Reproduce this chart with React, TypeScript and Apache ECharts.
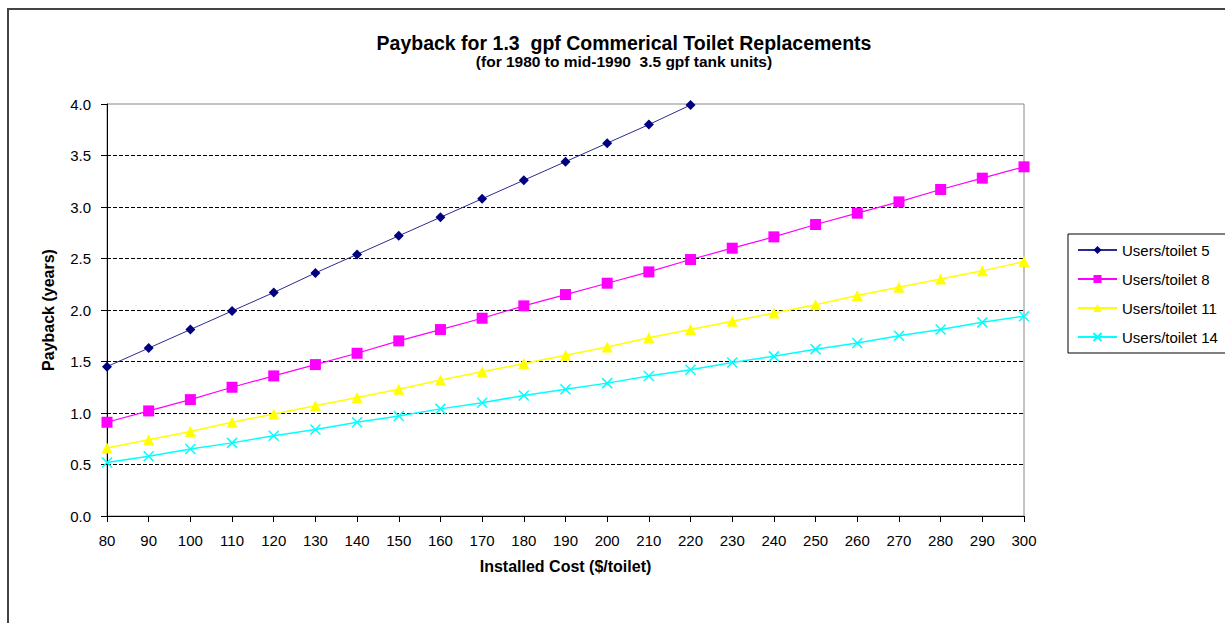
import React, { useEffect, useRef } from "react";
import * as echarts from "echarts";

const costs = [80, 90, 100, 110, 120, 130, 140, 150, 160, 170, 180, 190, 200, 210, 220, 230, 240, 250, 260, 270, 280, 290, 300];
const users5 = [1.45, 1.63, 1.81, 1.99, 2.17, 2.36, 2.54, 2.72, 2.90, 3.08, 3.26, 3.44, 3.62, 3.80, 3.99];
const users8 = [0.91, 1.02, 1.13, 1.25, 1.36, 1.47, 1.58, 1.70, 1.81, 1.92, 2.04, 2.15, 2.26, 2.37, 2.49, 2.60, 2.71, 2.83, 2.94, 3.05, 3.17, 3.28, 3.39];
const users11 = [0.66, 0.74, 0.82, 0.91, 0.99, 1.07, 1.15, 1.23, 1.32, 1.40, 1.48, 1.56, 1.64, 1.73, 1.81, 1.89, 1.97, 2.05, 2.14, 2.22, 2.30, 2.38, 2.47];
const users14 = [0.52, 0.58, 0.65, 0.71, 0.78, 0.84, 0.91, 0.97, 1.04, 1.10, 1.17, 1.23, 1.29, 1.36, 1.42, 1.49, 1.55, 1.62, 1.68, 1.75, 1.81, 1.88, 1.94];
const seriesNames = ["Users/toilet 5", "Users/toilet 8", "Users/toilet 11", "Users/toilet 14"];

const FONT = "'Liberation Sans', Arial, sans-serif";

function pairs(vals: number[]) {
  return vals.map((v, i) => [costs[i], v]);
}

export default function App() {
  const ref = useRef<HTMLDivElement>(null);
  useEffect(() => {
    if (!ref.current) return;
    const chart = echarts.init(ref.current, null, { renderer: "svg" });
    chart.setOption({
      animation: false,
      backgroundColor: "#fff",
      textStyle: { fontFamily: FONT },
      title: {
        text: "Payback for 1.3  gpf Commerical Toilet Replacements",
        subtext: "(for 1980 to mid-1990  3.5 gpf tank units)",
        left: 619,
        top: 28,
        textAlign: "center",
        itemGap: 0,
        textStyle: { fontFamily: FONT, fontSize: 19.5, fontWeight: "bold", color: "#000", lineHeight: 20 },
        subtextStyle: { fontFamily: FONT, fontSize: 15.5, fontWeight: "bold", color: "#000", lineHeight: 16 },
      },
      graphic: [
        {
          type: "rect",
          shape: { x: 8, y: 9, width: 1400, height: 800 },
          style: { fill: "none", stroke: "#444", lineWidth: 2 },
          silent: true,
        },
      ],
      legend: {
        orient: "vertical",
        left: 1068,
        top: 234,
        padding: [8, 12, 8, 9],
        itemGap: 13,
        itemWidth: 39,
        itemHeight: 10,
        borderColor: "#000",
        borderWidth: 1,
        textStyle: { fontFamily: FONT, fontSize: 15, color: "#000", lineHeight: 16 },
        data: seriesNames,
      },
      grid: {
        left: 107,
        right: 201,
        top: 104,
        bottom: 107,
        show: true,
        borderColor: "#888",
        borderWidth: 1,
        backgroundColor: "transparent",
      },
      xAxis: {
        type: "value",
        min: 80,
        max: 300,
        interval: 10,
        name: "Installed Cost ($/toilet)",
        nameLocation: "middle",
        nameGap: 42,
        nameTextStyle: { fontFamily: FONT, fontSize: 16, fontWeight: "bold", color: "#000" },
        axisLine: { lineStyle: { color: "#000", width: 1 } },
        axisTick: { show: true, length: 6, lineStyle: { color: "#000" } },
        axisLabel: { fontFamily: FONT, fontSize: 15, color: "#000", margin: 17 },
        splitLine: { show: false },
      },
      yAxis: {
        type: "value",
        min: 0,
        max: 4,
        interval: 0.5,
        name: "Payback (years)",
        nameLocation: "middle",
        nameGap: 51,
        nameTextStyle: { fontFamily: FONT, fontSize: 16, fontWeight: "bold", color: "#000" },
        axisLine: { show: true, lineStyle: { color: "#000", width: 1 } },
        axisTick: { show: true, length: 6, lineStyle: { color: "#000" } },
        axisLabel: {
          fontFamily: FONT,
          fontSize: 15,
          color: "#000",
          margin: 16,
          formatter: (v: number) => v.toFixed(1),
        },
        splitLine: {
          show: true,
          showMinLine: false,
          showMaxLine: false,
          lineStyle: { color: "#000", type: [4, 2], width: 1 },
        },
      },
      series: [
        {
          name: seriesNames[0],
          type: "line",
          data: pairs(users5),
          symbol: "diamond",
          symbolSize: 10,
          color: "#000080",
          lineStyle: { color: "#2b2b90", width: 1 },
          itemStyle: { color: "#000080" },
          z: 5,
        },
        {
          name: seriesNames[1],
          type: "line",
          data: pairs(users8),
          symbol: "rect",
          symbolSize: 11,
          color: "#ff00ff",
          lineStyle: { color: "#ff00ff", width: 1.2 },
          itemStyle: { color: "#ff00ff" },
          z: 4,
        },
        {
          name: seriesNames[2],
          type: "line",
          data: pairs(users11),
          symbol: "triangle",
          symbolSize: 11,
          color: "#ffff00",
          lineStyle: { color: "#ffff00", width: 1.5 },
          itemStyle: { color: "#ffff00" },
          z: 3,
        },
        {
          name: seriesNames[3],
          type: "line",
          data: pairs(users14),
          symbol: "path://M0,0L10,10M10,0L0,10",
          symbolSize: 10,
          color: "#00ffff",
          lineStyle: { color: "#00ffff", width: 1.5 },
          itemStyle: { color: "none", borderColor: "#00ffff", borderWidth: 1.5 },
          z: 2,
        },
      ],
    });
    return () => chart.dispose();
  }, []);
  return (
    <div
      ref={ref}
      style={{ position: "fixed", left: 0, top: 0, width: 1225, height: 623, background: "#fff" }}
    />
  );
}
